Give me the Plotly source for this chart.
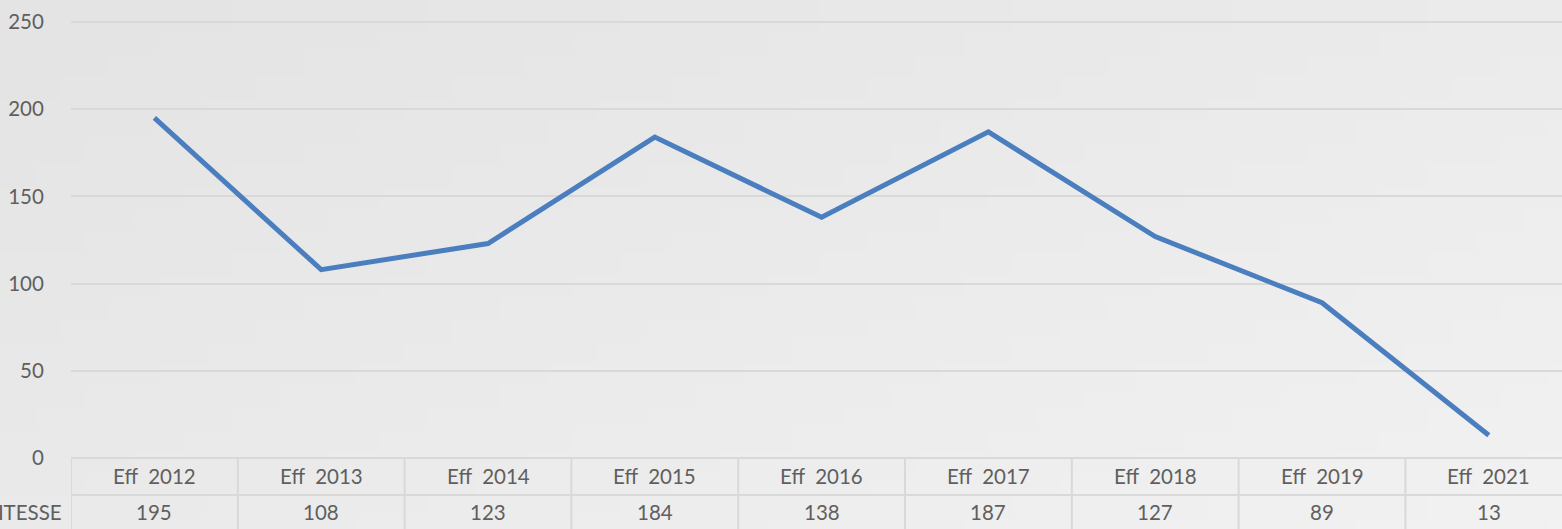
import plotly.graph_objects as go
import zlib, struct, base64

categories = ["Eff  2012", "Eff  2013", "Eff  2014", "Eff  2015", "Eff  2016",
              "Eff  2017", "Eff  2018", "Eff  2019", "Eff  2021"]
values = [195, 108, 123, 184, 138, 187, 127, 89, 13]
series_name = "VITESSE"
y_ticks = [0, 50, 100, 150, 200, 250]

W, H = 1562, 529
L = 71
px_per_cat = 166.8
y0_px, y250_px = 458, 22
ppu = (y0_px - y250_px) / 250.0
y_top = 250 + y250_px / ppu
y_bot = -(H - y0_px) / ppu
x_right = -0.5 + (W - L) / px_per_cat
row_sep = -(495 - y0_px) / ppu
cat_row_y = -(476 - y0_px) / ppu
val_row_y = -(512 - y0_px) / ppu


def gradient_png(w, h):
    rows = b""
    for j in range(h):
        row = b"\x00"
        for i in range(w):
            u = i / (w - 1)
            v = j / (h - 1)
            t = 0.55 * u + 0.45 * v
            c = int(228 + 14 * t)
            row += bytes([c, c, c])
        rows += row
    def chunk(tag, data):
        return struct.pack(">I", len(data)) + tag + data + struct.pack(">I", zlib.crc32(tag + data) & 0xffffffff)
    png = b"\x89PNG\r\n\x1a\n" + chunk(b"IHDR", struct.pack(">IIBBBBB", w, h, 8, 2, 0, 0, 0))
    png += chunk(b"IDAT", zlib.compress(rows)) + chunk(b"IEND", b"")
    return "data:image/png;base64," + base64.b64encode(png).decode()


font_family = "Lato, 'Open Sans', sans-serif"
fsize = 20.5
text_color = "#5f5f5f"
grid_color = "#d9d9d9"

fig = go.Figure()
fig.add_trace(go.Scatter(
    x=list(range(len(values))), y=values, mode="lines",
    line=dict(color="#4a7ebf", width=5), name=series_name,
    hoverinfo="y"))

shapes = []
shapes.append(dict(type="line", xref="x", yref="y", x0=-0.5, x1=x_right + 1, y0=row_sep, y1=row_sep,
                   line=dict(color=grid_color, width=2), layer="below"))
for i in range(len(categories) + 1):
    xb = i - 0.5
    shapes.append(dict(type="line", xref="x", yref="y", x0=xb, x1=xb, y0=0, y1=y_bot,
                       line=dict(color=grid_color, width=2), layer="below"))

annotations = []
for i, (c, v) in enumerate(zip(categories, values)):
    annotations.append(dict(x=i, y=cat_row_y, xref="x", yref="y", text=c, showarrow=False,
                            font=dict(family=font_family, size=fsize, color=text_color)))
    annotations.append(dict(x=i, y=val_row_y, xref="x", yref="y", text=str(v), showarrow=False,
                            font=dict(family=font_family, size=fsize, color=text_color)))
annotations.append(dict(x=(64 - L) / (W - L), y=val_row_y, xref="paper", yref="y", text=series_name,
                        showarrow=False, xanchor="right",
                        font=dict(family=font_family, size=fsize, color=text_color)))

fig.update_layout(
    width=W, height=H,
    margin=dict(l=L, r=0, t=0, b=0),
    paper_bgcolor="rgba(0,0,0,0)",
    plot_bgcolor="rgba(0,0,0,0)",
    showlegend=False,
    images=[dict(source=gradient_png(64, 24), xref="paper", yref="paper", x=-L / (W - L), y=1,
                 sizex=W / (W - L), sizey=1, sizing="stretch", layer="below", xanchor="left", yanchor="top")],
    xaxis=dict(range=[-0.5, x_right], showgrid=False, zeroline=False, showticklabels=False,
               showline=False, fixedrange=True),
    yaxis=dict(range=[y_bot, y_top], tickvals=y_ticks, ticktext=[str(t) for t in y_ticks],
               showgrid=True, gridcolor=grid_color, gridwidth=2, zeroline=False,
               tickfont=dict(family=font_family, size=fsize, color=text_color),
               ticks="outside", ticklen=22, tickcolor="rgba(0,0,0,0)", showline=False),
    shapes=shapes,
    annotations=annotations,
)

fig.write_html("out.html", config={"displayModeBar": False},
               post_script="document.body.style.margin='0px';document.body.style.overflow='hidden';")
